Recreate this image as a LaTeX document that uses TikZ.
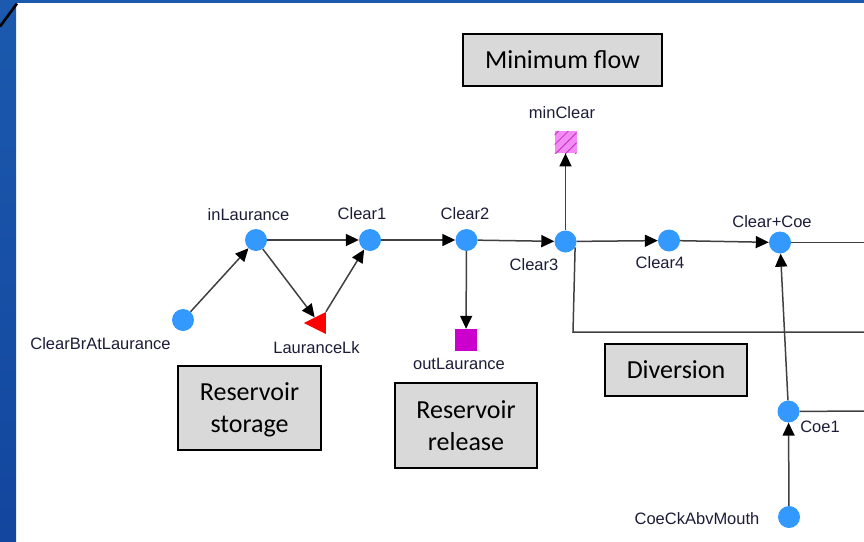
\documentclass[tikz,border=0pt]{standalone}
\usepackage{fontspec}
\setmainfont{Carlito}
\newfontfamily\labelfont{Liberation Sans}
\usetikzlibrary{arrows.meta,patterns.meta,shapes.geometric,positioning}
\definecolor{nodeblue}{RGB}{51,153,255}
\definecolor{boxgray}{RGB}{217,217,217}
\definecolor{labeltext}{RGB}{28,28,56}
\definecolor{slideblue}{RGB}{27,90,174}
\definecolor{slidedark}{RGB}{19,70,158}
\definecolor{sinkmagenta}{RGB}{204,0,204}
\definecolor{minpink}{RGB}{242,140,242}
\definecolor{minhatch}{RGB}{200,40,200}

\begin{document}
\begin{tikzpicture}[x=1pt,y=-1pt]
			\tikzstyle{junction}=[circle,fill=nodeblue,minimum size=22pt,inner sep=0pt]
			\tikzstyle{demand}=[rectangle,fill=sinkmagenta,minimum size=22pt,inner sep=0pt]
			\tikzstyle{minflow}=[rectangle,minimum size=22pt,inner sep=0pt,preaction={fill=minpink},
				pattern={Lines[angle=45,distance=7pt,line width=0.8pt]},pattern color=minhatch]
			\tikzstyle{storage}=[isosceles triangle,isosceles triangle stretches,shape border rotate=180,
				fill=red,minimum width=22pt,minimum height=22pt,inner sep=0pt]
			\tikzstyle{nodelabel}=[font=\labelfont\fontsize{16.5}{16.5}\selectfont,text=labeltext,inner sep=0pt]
			\tikzstyle{caption}=[draw=black,fill=boxgray,line width=1.5pt,align=center,inner sep=0pt,
				font=\fontsize{26}{32}\selectfont]
			\tikzstyle{flow}=[draw=black!75,line width=1.5pt,-{Triangle[length=13pt,width=12pt,color=black]}]
			\tikzstyle{plain}=[draw=black!75,line width=1.5pt]
			\useasboundingbox (0,0) rectangle (864,541);
			% slide frame
			\shade[top color=slideblue,bottom color=slidedark] (0,0) rectangle (16,541);
			\fill[slideblue] (0,0) rectangle (864,3);
			\draw[line width=2.6pt] (0,26.5) -- (17,3.5);
			% network nodes
			\node[junction](ClearBrAtLaurance) at (183,320){};
			\node[junction](inLaurance) at (256,240){};
			\node[junction](Clear1) at (370,240){};
			\node[junction](Clear2) at (466.5,240){};
			\node[junction](Clear3) at (565.5,241.5){};
			\node[junction](Clear4) at (669,240.5){};
			\node[junction](ClearCoe) at (780,242.5){};
			\node[junction](Coe1) at (788.5,411.5){};
			\node[junction](CoeCkAbvMouth) at (789,517){};
			\node[storage](LauranceLk) at (319,323){};
			\node[demand](outLaurance) at (466,340){};
			\node[minflow](minClear) at (565.5,142){};
			% labels
			\node[nodelabel](lblClearBrAtLaurance) at (100.5,344){ClearBrAtLaurance};
			\node[nodelabel](lblinLaurance) at (248.5,214.5){inLaurance};
			\node[nodelabel](lblClear1) at (362,214){Clear1};
			\node[nodelabel](lblClear2) at (465,214){Clear2};
			\node[nodelabel](lblClear3) at (534,265){Clear3};
			\node[nodelabel](lblClear4) at (660,263){Clear4};
			\node[nodelabel](lblClearCoe) at (772,222){Clear+Coe};
			\node[nodelabel](lblLauranceLk) at (316.5,347.5){LauranceLk};
			\node[nodelabel](lbloutLaurance) at (459,364){outLaurance};
			\node[nodelabel](lblminClear) at (562,113){minClear};
			\node[nodelabel](lblCoe1) at (820,427){Coe1};
			\node[nodelabel](lblCoeCkAbvMouth) at (697,519){CoeCkAbvMouth};
			% captions
			\node[caption,minimum width=199pt,minimum height=52pt](capMinflow) at (562.5,60){Minimum flow};
			\node[caption,minimum width=143pt,minimum height=84pt,text depth=-9pt](capStorage) at (249.5,408){Reservoir\\storage};
			\node[caption,minimum width=142pt,minimum height=85pt,text depth=-9pt](capRelease) at (466,425.5){Reservoir\\release};
			\node[caption,minimum width=142pt,minimum height=52pt](capDiversion) at (676,370){Diversion};
			% links leaving the view
			\coordinate (eastClearCoe) at (864,242.5);
			\coordinate (divBend) at (573,332);
			\coordinate (eastDiversion) at (864,332);
			\coordinate (eastCoe1) at (864,411);
			\path[flow] (ClearBrAtLaurance) edge (inLaurance)
			(inLaurance) edge (LauranceLk)
			(LauranceLk) edge (Clear1)
			(inLaurance) edge (Clear1)
			(Clear1) edge (Clear2)
			(Clear2) edge (Clear3)
			(Clear2) edge (outLaurance)
			(Clear3) edge (minClear)
			(Clear3) edge (Clear4)
			(Clear4) edge (ClearCoe)
			(Coe1) edge (ClearCoe)
			(CoeCkAbvMouth) edge (Coe1);
			\draw[plain] (ClearCoe) -- (eastClearCoe);
			\draw[plain] (Clear3.-31) -- (divBend) -- (eastDiversion);
			\draw[plain] (Coe1) -- (eastCoe1);
\end{tikzpicture}
\end{document}
